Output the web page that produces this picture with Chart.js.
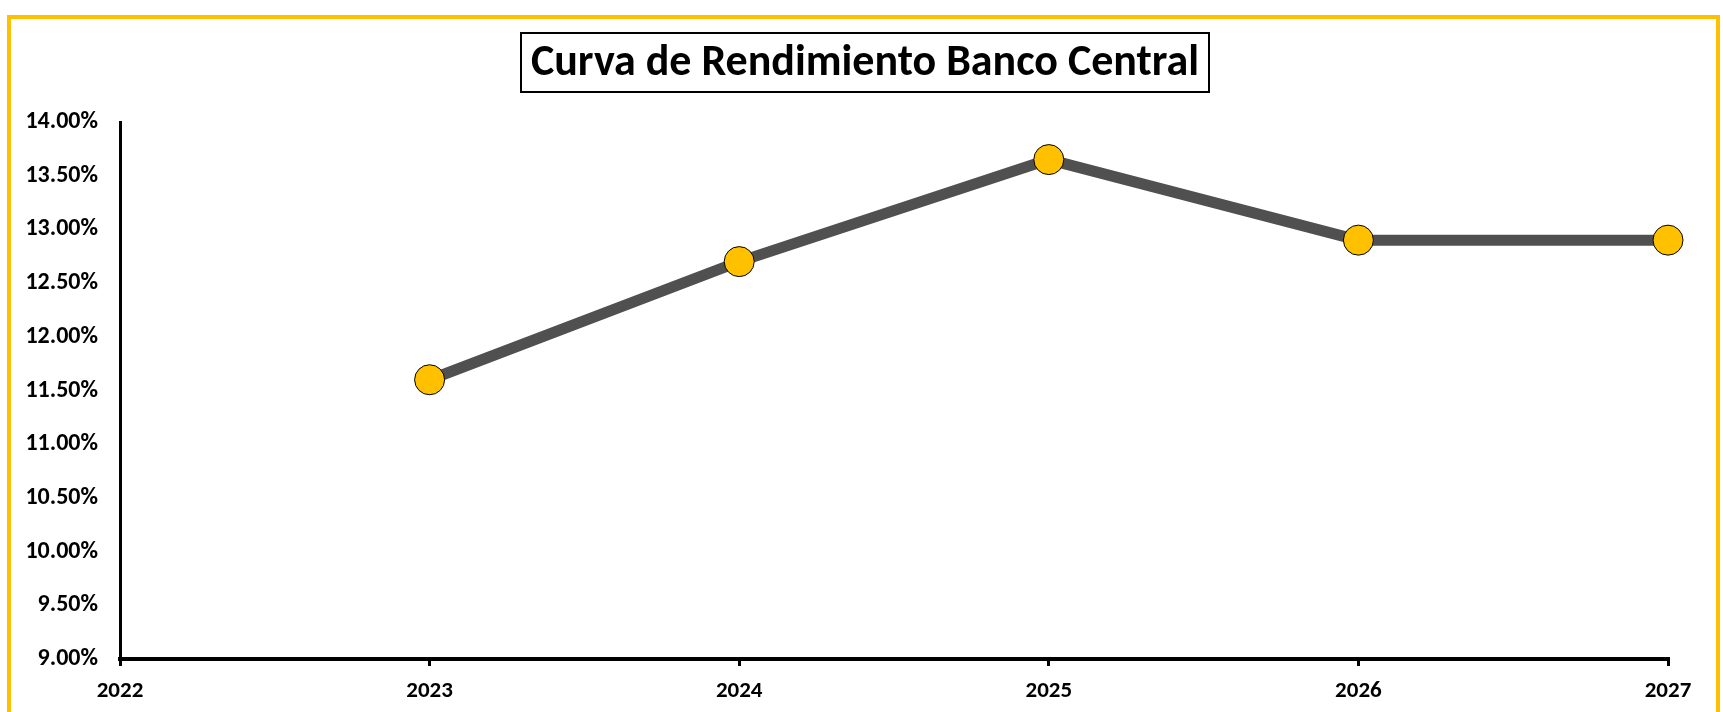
<!DOCTYPE html>
<html>
<head>
<meta charset="utf-8">
<script src="https://cdn.jsdelivr.net/npm/chart.js@4/dist/chart.umd.min.js"></script>
<style>
  html, body { margin: 0; padding: 0; background: #fff; overflow: hidden; }
  #wrap { position: relative; width: 1723px; height: 712px; }
  #frame {
    position: absolute; left: 7px; top: 15px; width: 1713px; height: 800px;
    border: 4px solid #FFC000; box-sizing: border-box; pointer-events: none;
  }
  canvas { position: absolute; left: 0; top: 0; }
</style>
</head>
<body>
<div id="wrap">
  <div id="frame"></div>
  <canvas id="curva" width="1723" height="712"></canvas>
</div>
<script>
// datos de la curva
const TITLE = 'Curva de Rendimiento Banco Central';
const YEARS = ['2022', '2023', '2024', '2025', '2026', '2027'];
const RATES = [null, 11.60, 12.70, 13.65, 12.90, 12.90];
const Y_MIN = 9;
const Y_MAX = 14;
const Y_STEP = 0.5;

const FONT = "Carlito, Lato, 'Liberation Sans', sans-serif";

// titulo con recuadro
const boxedTitle = {
    id: 'boxedTitle',
    afterDraw(chart) {
        const ctx = chart.ctx;
        ctx.save();
        ctx.font = 'bold 44px ' + FONT;
        ctx.textAlign = 'center';
        ctx.textBaseline = 'middle';
        const cx = 865, cy = 64;
        const w = ctx.measureText(TITLE).width;
        ctx.fillStyle = '#000';
        ctx.fillText(TITLE, cx, cy);
        ctx.strokeStyle = '#000';
        ctx.lineWidth = 2;
        ctx.strokeRect(Math.round(cx - w / 2 - 10), 33, Math.round(w + 20), 59);
        ctx.restore();
    }
};

document.addEventListener("DOMContentLoaded", () => {
    const CHART_CURVA = new Chart(document.getElementById('curva'), {
        type: 'line',
        data: {
            labels: YEARS,
            datasets: [{
                data: RATES,
                borderColor: '#505050',
                borderWidth: 11,
                backgroundColor: '#FFC000',
                pointBackgroundColor: '#FFC000',
                pointBorderColor: '#000',
                pointBorderWidth: 1,
                pointRadius: 15,
                pointHoverRadius: 15,
                tension: 0,
                fill: false
            }]
        },
        options: {
            responsive: false,
            animation: false,
            events: [],
            layout: { padding: { top: 122, right: 55, bottom: 0, left: 0 } },
            plugins: {
                legend: { display: false },
                title: { display: false },
                tooltip: { enabled: false }
            },
            scales: {
                x: {
                    type: 'category',
                    offset: false,
                    grid: {
                        display: true,
                        drawOnChartArea: false,
                        drawTicks: true,
                        tickLength: 7,
                        color: '#000',
                        lineWidth: 3
                    },
                    border: { display: true, color: '#000', width: 4 },
                    ticks: {
                        color: '#000',
                        padding: 11,
                        maxRotation: 0,
                        font: { family: FONT, size: 23, weight: 'bold' }
                    },
                    afterFit(scale) { scale.height = 53; }
                },
                y: {
                    min: Y_MIN,
                    max: Y_MAX,
                    grid: { display: false, drawTicks: false },
                    border: { display: true, color: '#000', width: 3 },
                    ticks: {
                        stepSize: Y_STEP,
                        color: '#000',
                        padding: 22,
                        font: { family: FONT, size: 24, weight: 'bold' },
                        callback: (v) => v.toFixed(2) + '%'
                    },
                    afterFit(scale) { scale.width = 120; }
                }
            }
        },
        plugins: [boxedTitle]
    });
});
</script>
</body>
</html>
